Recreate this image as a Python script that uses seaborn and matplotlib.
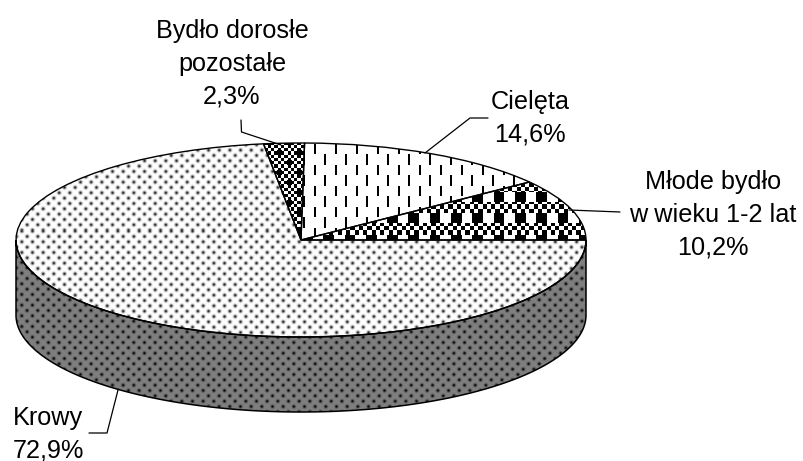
import numpy as np
import matplotlib
matplotlib.use("Agg")
import matplotlib.pyplot as plt
from matplotlib.lines import Line2D
from matplotlib.path import Path
from matplotlib.patches import PathPatch
import seaborn as sns

categories = ["Młode bydło\nw wieku 1-2 lat", "Cielęta", "Bydło dorosłe\npozostałe", "Krowy"]
values = [10.2, 14.6, 2.3, 72.9]
value_labels = ["10,2%", "14,6%", "2,3%", "72,9%"]

W, H = 804, 461
CX, CY, RX, RY, DEPTH = 301.0, 240.0, 285.0, 97.0, 75.0

sns.set_theme(style="white")
plt.rcParams["font.family"] = ["Liberation Sans", "DejaVu Sans"]

yy, xx = np.mgrid[0:H, 0:W].astype(float)


def dots(base, ox, oy, sigma=1.2, p=10.67, strength=0.85):
    def field(ax_, ay_):
        u = (xx - ax_ + p / 2) % p - p / 2
        v = (yy - ay_ + p / 2) % p - p / 2
        return np.exp(-(u**2 + v**2) / (2 * sigma**2))
    f = field(ox, oy) + field(ox + p / 2, oy + p / 2)
    return base * (1 - strength * np.clip(f, 0, 1))


def plaid():
    p = 21.33
    cols = ((xx + 18.6) % p) < p / 2
    band = ((yy - 10.7) % p) < p / 2
    cell = p / 5
    chk = (np.floor(xx / cell) + np.floor(yy / cell)) % 2 == 0
    return np.where(band, chk, ~cols).astype(float)


def fine_check():
    c = 3.3
    img = ((np.floor(xx / c) + np.floor(yy / c)) % 2 == 0).astype(float)
    p = 20.0
    u = (xx - 279 + p / 2) % p - p / 2
    v = (yy - 153 + p / 2) % p - p / 2
    u2 = (xx - 289 + p / 2) % p - p / 2
    v2 = (yy - 163 + p / 2) % p - p / 2
    blob = ((abs(u) < 3) & (abs(v) < 3)) | ((abs(u2) < 3) & (abs(v2) < 3))
    img[blob] = 0
    return img


def dashes():
    px, py = 10.5, 21.0
    col = np.floor((xx - 303) / px)
    on_x = ((xx - 303) % px) < 1.7
    on_y = ((yy - 155 + col * py / 2) % py) < 10.5
    return np.where(on_x & on_y, 0.0, 1.0)


fig = plt.figure(figsize=(W / 100, H / 100), dpi=100, facecolor="white")
ax = fig.add_axes([0, 0, 1, 1])
wedges, _ = ax.pie(values, startangle=0, counterclock=True, radius=1, center=(0, 0),
                   colors=["white"] * 4, wedgeprops=dict(edgecolor="none"))
ext = [-CX / RX, (W - CX) / RX, (CY - H) / RY, CY / RY]

# cylinder wall
t = np.linspace(np.pi, 2 * np.pi, 300)
d = DEPTH / RY
vx = np.r_[np.cos(t), np.cos(t[::-1]), -1.0]
vy = np.r_[np.sin(t), np.sin(t[::-1]) - d, 0.0]
side = PathPatch(Path(np.c_[vx, vy], closed=True), fc="none", ec="black", lw=1.1, zorder=4)
ax.add_patch(side)
im = ax.imshow(dots(0.5, 133.3, 342.0, sigma=1.15, strength=0.95), cmap="gray", vmin=0, vmax=1,
               extent=ext, aspect="auto", interpolation="nearest", origin="upper", zorder=3)
im.set_clip_path(side)

textures = [plaid(), dashes(), fine_check(), dots(1.0, 122.7, 193.3)]
for w, tex in zip(wedges, textures):
    im = ax.imshow(tex, cmap="gray", vmin=0, vmax=1, extent=ext, aspect="auto",
                   interpolation="nearest", origin="upper", zorder=2)
    im.set_clip_path(w)
    w.set_facecolor("none")
    w.set_edgecolor("black")
    w.set_linewidth(1.0)
    w.set_zorder(5)

ax.set_aspect("auto")
ax.set_xlim(ext[0], ext[1])
ax.set_ylim(ext[2], ext[3])
ax.axis("off")

# leader lines and labels in pixel positions
leaders = [[(569, 210), (620, 212)],
           [(425, 153), (470, 118), (488, 118)],
           [(281, 145), (241.5, 132), (241, 120)],
           [(118, 390), (107, 433), (89, 433)]]
for pts in leaders:
    p = np.array(pts, float)
    fig.add_artist(Line2D(p[:, 0] / W, 1 - p[:, 1] / H, color="black", lw=0.9))

FS = 18.2
anchors = [(713, 215), (530, 118), (232, 64), (48, 434)]
for cat, val, (x, y) in zip(categories, value_labels, anchors):
    fig.text(x / W, 1 - y / H, f"{cat}\n{val}", ha="center", va="center", fontsize=FS,
             color="black", linespacing=1.455, multialignment="center")

fig.savefig("out.png", dpi=100)
